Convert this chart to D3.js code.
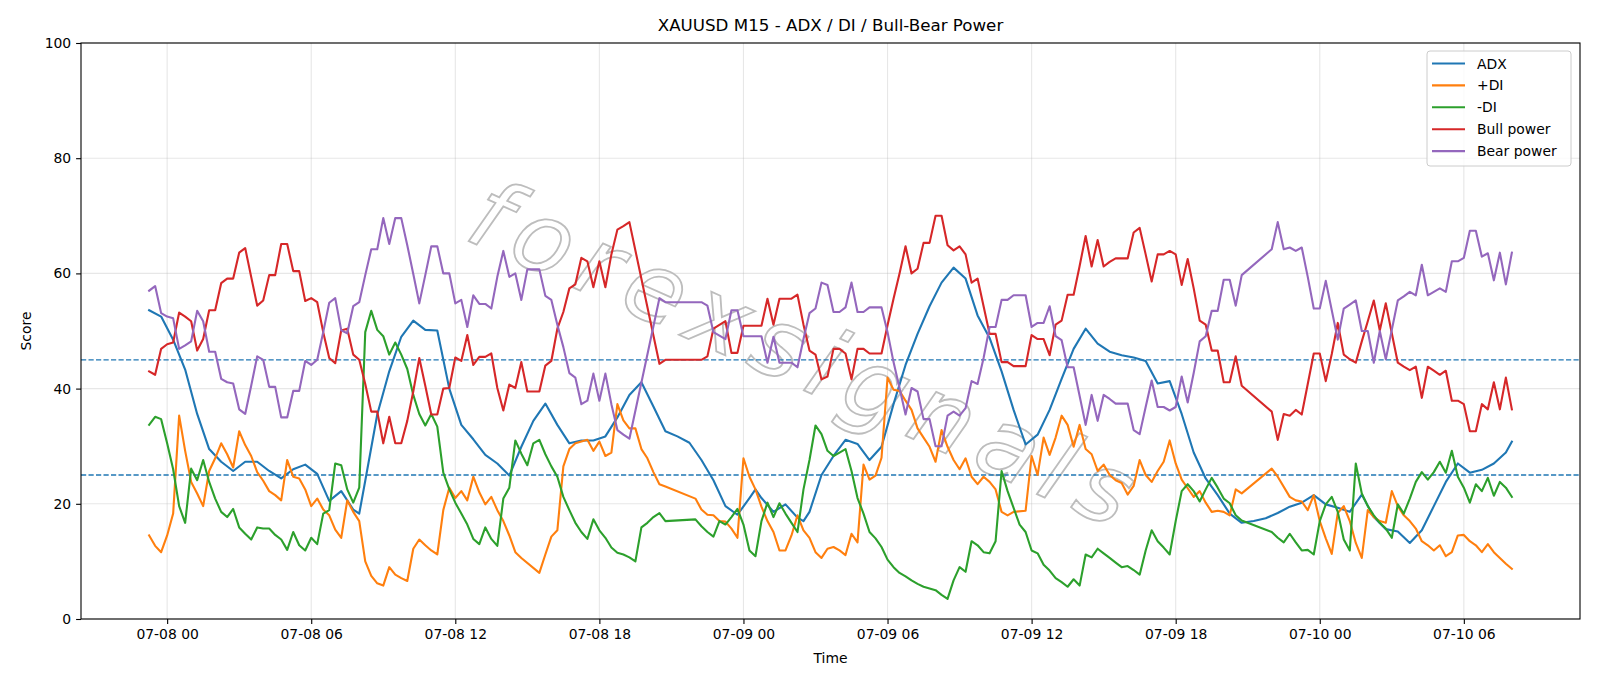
<!DOCTYPE html>
<html>
<head>
<meta charset="utf-8">
<script src="https://cdn.jsdelivr.net/npm/d3@7"></script>
<style>
  html, body { margin: 0; padding: 0; background: #fff; }
  svg { display: block; font-family: "DejaVu Sans", sans-serif; }
</style>
</head>
<body>
<svg id="chart" width="1600" height="686"></svg>
<script>
// M15 bars: bar 0 = 07-07 23:15, one bar every 15 minutes
const startTime = new Date(2025, 6, 7, 23, 15);
const barMinutes = 15;
const lastBar = 227;

const yTicks = [0, 20, 40, 60, 80, 100];
const thresholds = [25, 45];
const seriesNames = ['ADX', '+DI', '-DI', 'Bull power', 'Bear power'];
const seriesColors = ['#1f77b4', '#ff7f0e', '#2ca02c', '#d62728', '#9467bd'];

// [bar, value]
const adx = [[0,53.6],[2,52.5],[4,48.5],[6,43.3],[8,35.6],[10,29.5],[12,27.3],[14,25.7],[16,27.3],[18,27.3],[20,25.7],[22,24.4],
  [24,26],[26,26.8],[28,25.2],[30,20.5],[32,22.2],[34,19],[35,18.3],[36,24],[38,35.5],[40,43],[42,49],[44,51.8],[46,50.2],
  [48,50.1],[50,40],[52,33.7],[54,31.2],[56,28.5],[58,27],[60,24.9],[62,29.9],[64,34.4],[66,37.4],[68,33.7],[70,30.5],
  [72,31],[74,31],[76,31.7],[78,35],[80,38.9],[82,41.1],[84,36.9],[86,32.6],[88,31.7],[90,30.6],[92,27.6],[94,24.1],
  [96,19.6],[98,18.1],[100,21],[101,22.5],[102,21],[104,18.6],[106,19.9],[108,17.6],[109,17],[110,18.6],[112,25],[114,28.3],[116,31.1],[118,30.4],
  [120,27.6],[122,29.9],[124,37.3],[126,44.1],[128,49.5],[130,54.3],[132,58.4],[134,61],[136,59.1],[138,52.7],[140,48.8],[142,43],
  [144,36.3],[146,30.3],[148,32],[150,36.3],[152,41.7],[154,46.9],[156,50.4],[158,47.8],[160,46.4],[162,45.8],[164,45.4],[166,44.8],
  [168,40.9],[170,41.3],[172,35.6],[174,28.9],[176,24.4],[178,21.5],[180,18.3],[182,16.7],[184,17],[186,17.5],[188,18.4],[190,19.5],
  [192,20.2],[194,21.5],[196,19.9],[198,19.3],[200,18.6],[202,21.6],[204,17.7],[206,15.6],[208,15.2],[210,13.2],[212,15.4],[214,19.6],
  [216,23.8],[218,27],[220,25.4],[222,25.9],[224,27],[226,28.9],[227,30.8]];

const plusDi = [[0,14.5],[1,12.7],[2,11.6],[3,14.5],[4,18.3],[5,35.3],[6,29.2],[7,23.8],[8,21.8],[9,19.6],[10,25.7],[11,27.9],
  [12,30.5],[13,28.6],[14,26.3],[15,32.6],[16,30.2],[17,28.3],[18,25.5],[19,24],[20,22.2],[21,21.5],[22,20.6],[23,27.6],
  [24,24.7],[25,24.4],[26,22.5],[27,19.6],[28,20.9],[29,19],[30,18],[31,15.5],[32,14.1],[33,20.6],[34,18.6],[35,17],
  [36,10],[37,7.5],[38,6.2],[39,5.8],[40,9],[41,7.7],[42,7.1],[43,6.6],[44,12.2],[45,13.8],[46,12.8],[47,11.9],
  [48,11.2],[49,18.9],[50,22.8],[51,21],[52,22.2],[53,20.6],[54,24.7],[55,22],[56,19.9],[57,21.2],[58,18.9],[59,17],
  [60,14.5],[61,11.6],[62,10.6],[65,8],[66,11.2],[67,14.3],[68,15.4],[69,26.5],[70,29.5],[71,30.5],[72,30.8],[73,31.1],
  [74,29.2],[75,30.8],[76,28.3],[77,28.9],[78,37.3],[79,34.5],[80,33.1],[81,33.1],[82,29.5],[83,27.9],[84,25.5],[85,23.4],
  [86,23],[91,20.9],[92,19],[93,18.1],[94,18],[95,17],[96,16.9],[97,15.7],[98,14.1],[99,27.9],[100,24.7],[101,22.5],
  [102,19.5],[103,17],[104,15.1],[105,11.9],[106,11.9],[107,14.5],[108,18],[109,15.4],[110,14.1],[111,11.6],[112,10.6],[113,12.2],
  [114,12.5],[115,11.9],[116,11.1],[117,14.8],[118,13.3],[119,26.8],[120,24.2],[121,24.9],[122,28],[123,41.9],[124,39.8],[125,39.6],
  [126,37.9],[127,36.3],[128,33.1],[129,31.5],[130,29.9],[131,27.3],[132,32.8],[133,29.9],[134,27.6],[135,26],[136,27.9],[137,24.7],
  [138,23.4],[139,24.7],[140,23.8],[141,22.5],[142,18.6],[143,18],[144,18.6],[146,18.8],[147,28.3],[148,25],[149,31.5],[150,28.5],
  [151,31.5],[152,35.3],[153,33.7],[154,29.9],[155,33.7],[156,29.5],[157,28.6],[158,25.7],[159,26.8],[160,25],[161,24.1],[162,23.6],
  [163,21.6],[164,23.1],[165,27.6],[166,25],[167,23.8],[168,25.7],[169,27.3],[170,31],[171,27],[172,24.2],[173,22.7],[174,21.2],
  [175,22.2],[176,20.2],[177,18.6],[178,18.8],[179,18.6],[180,18],[181,22.5],[182,21.8],[187,26.1],[188,24.7],[190,21.2],[191,20.6],
  [192,20.4],[193,18.9],[194,21.5],[195,17],[196,14],[197,11.3],[198,18.4],[199,19.6],[200,17],[201,13.2],[202,10.6],[203,18.9],
  [204,17.7],[205,17],[206,16.7],[207,22.2],[208,19.6],[209,18],[210,17],[211,15.7],[212,13.5],[213,12.8],[214,11.9],[215,12.8],
  [216,10.9],[217,11.6],[218,14.5],[219,14.6],[220,13.5],[221,12.8],[222,11.6],[223,13],[224,11.6],[225,10.6],[226,9.6],[227,8.7]];

const minusDi = [[0,33.7],[1,35.1],[2,34.7],[3,30.5],[4,26],[5,19.6],[6,16.7],[7,26.1],[8,24.1],[9,27.6],[10,23.8],[11,20.9],
  [12,18.6],[13,17.7],[14,19.1],[15,15.9],[16,14.8],[17,13.8],[18,15.9],[19,15.7],[20,15.7],[21,14.6],[22,13.8],[23,12],
  [24,15.1],[25,12.8],[26,11.9],[27,14.1],[28,13],[29,18.3],[30,18.9],[31,27],[32,26.7],[33,22.5],[34,20.2],[35,22.8],
  [36,49.8],[37,53.5],[38,50.2],[39,49.1],[40,45.9],[41,48],[42,45.9],[43,43.4],[44,38.9],[45,35.6],[46,33.6],[47,35.6],
  [48,33.4],[49,25.4],[50,22.5],[51,20.2],[52,18.3],[53,16.4],[54,13.9],[55,13],[56,15.9],[57,13.9],[58,12.7],[59,20.9],
  [60,22.8],[61,31],[62,28.7],[63,26.7],[64,30.5],[65,31.1],[66,28.6],[67,26.5],[68,24.7],[69,21.2],[70,18.9],[71,16.7],
  [72,15.1],[73,13.9],[74,17.3],[75,15.4],[76,14.1],[77,12.4],[78,11.5],[79,11.2],[80,10.7],[81,10],[82,15.9],[83,16.7],
  [84,17.7],[85,18.4],[86,17],[91,17.3],[92,16.1],[93,15.1],[94,14.3],[95,17],[96,16.4],[97,17.7],[98,19.1],[99,16.4],
  [100,11.9],[101,10.9],[102,17],[103,20.2],[104,17.7],[105,20.1],[106,18.3],[107,16.7],[108,15.1],[109,22.5],[110,27.6],[111,33.6],
  [112,32.1],[113,29.2],[114,28.3],[115,28.9],[116,29.5],[117,25.7],[118,21],[119,18.3],[120,15.1],[121,14],[122,12.5],[123,10.3],
  [124,9],[125,8],[126,7.4],[127,6.7],[128,6.1],[129,5.6],[131,5],[132,4.2],[133,3.5],[134,6.7],[135,9],[136,8.2],
  [137,13.5],[138,12.8],[139,11.6],[140,11.4],[141,13.5],[142,25.7],[143,22.2],[144,19.3],[145,16.4],[146,15.1],[147,11.9],[148,11.4],
  [149,9.4],[150,8.4],[151,7.1],[152,6.4],[153,5.6],[154,6.9],[155,5.8],[156,11.2],[157,10.7],[158,12.2],[159,11.4],[160,10.6],
  [161,9.8],[162,9],[163,9.2],[164,8.5],[165,7.7],[166,11.9],[167,15.4],[168,13.5],[169,12.4],[170,11.2],[171,17],[172,22.2],
  [173,23.4],[174,22.2],[175,20.4],[176,22.5],[177,24.5],[178,22.8],[179,20.9],[180,20.1],[181,18],[182,17.1],[187,15.1],[188,14.1],
  [189,13.3],[190,14.8],[191,13.3],[192,11.9],[193,12],[194,11.2],[195,17],[196,19.9],[197,21.2],[198,18.6],[199,13.8],[200,11.9],
  [201,27],[202,21.8],[203,19.6],[204,18],[205,16.7],[206,15.7],[207,14.1],[208,19.9],[209,18.3],[210,20.9],[211,23.8],[212,25.5],
  [213,24.2],[214,25.5],[215,27.3],[216,25.4],[217,29.2],[218,24.7],[219,22.8],[220,20.2],[221,23.4],[222,22.2],[223,24.5],[224,21.4],
  [225,23.8],[226,22.8],[227,21.2]];

const bullPower = [[0,43],[1,42.4],[2,46.9],[3,47.7],[4,48],[5,53.2],[6,52.5],[7,51.7],[8,46.6],[9,48.6],[10,53.6],[11,53.6],
  [12,58.3],[13,59.1],[14,59.1],[15,63.6],[16,64.4],[17,59.4],[18,54.4],[19,55.3],[20,59.7],[21,59.7],[22,65.1],[23,65.1],
  [24,60.4],[25,60.4],[26,55.2],[27,55.7],[28,55],[29,49.8],[30,45.3],[31,44.4],[32,50.1],[33,50.4],[34,45.9],[35,45],
  [36,40.8],[37,36],[38,36],[39,30.5],[40,35.1],[41,30.5],[42,30.5],[43,34.4],[44,39.5],[45,45.3],[46,40.5],[47,35.5],
  [48,35.5],[49,40],[50,40.1],[51,45.4],[52,44.8],[53,49.3],[54,44.1],[55,45.5],[56,45.5],[57,46.1],[58,40.1],[59,36.2],
  [60,40.7],[61,40.1],[62,44.6],[63,39.5],[64,39.5],[65,39.5],[66,44],[67,44.8],[68,50.4],[69,53.3],[70,57.4],[71,58.1],
  [72,62.7],[73,62.1],[74,57.6],[75,62.1],[76,57.6],[77,63.3],[78,67.6],[79,68.2],[80,68.9],[85,44.3],[86,45],[92,45],
  [93,45.6],[94,50.4],[96,51.7],[97,46.2],[98,46.2],[99,50.9],[102,50.9],[103,55.6],[104,51.1],[105,55.6],[107,55.6],[108,56.3],
  [109,51.1],[110,46.6],[111,45.9],[112,41.6],[113,42.1],[114,46.9],[115,46.9],[116,46.1],[117,41.6],[118,46.9],[119,46.9],[120,46.1],
  [121,46.1],[122,46.1],[123,51],[124,55.6],[125,60],[126,64.7],[127,60],[128,60.8],[129,65.3],[130,65.3],[131,70],[132,70],
  [133,64.9],[134,64],[135,64.7],[136,63.3],[137,58.4],[138,59.1],[139,54.3],[140,49.5],[141,49.5],[142,44.6],[143,44.6],[144,43.9],
  [146,43.9],[147,49.3],[148,48.6],[149,48.6],[150,45.8],[151,51.1],[152,51.8],[153,56.3],[154,56.3],[155,61.3],[156,66.5],[157,61.2],
  [158,65.8],[159,61.2],[160,62],[161,62.6],[162,62.6],[163,62.6],[164,67.1],[165,67.9],[166,63.3],[167,58.6],[168,63.3],[169,63.3],
  [170,63.9],[171,63.3],[172,58],[173,62.5],[174,57.4],[175,51.8],[176,51.1],[177,46.6],[178,46.6],[179,41.1],[180,41.1],[181,45.6],
  [182,40.5],[187,36],[188,31.1],[189,35.6],[190,35.3],[191,36.3],[192,35.5],[193,40.8],[194,46.1],[195,46.1],[196,41.3],[197,46],
  [198,51.4],[199,45.9],[200,45.1],[201,44.5],[202,48.2],[203,51.7],[204,55.3],[205,50.1],[206,54.8],[207,49.6],[208,44.5],[209,43.8],
  [210,43.2],[211,43.8],[212,38.4],[213,43.8],[214,43.1],[215,42.4],[216,43.1],[217,37.9],[218,37.9],[219,37.3],[220,32.6],[221,32.6],
  [222,37.3],[223,36.4],[224,41.1],[225,36.4],[226,41.9],[227,36.4]];

const bearPower = [[0,57],[1,57.8],[2,53.1],[3,52.5],[4,52.2],[5,46.9],[6,47.5],[7,48.2],[8,53.5],[9,51.7],[10,46.4],[11,46.4],
  [12,41.7],[13,41.1],[14,40.9],[15,36.4],[16,35.6],[17,40.5],[18,45.6],[19,45],[20,40.3],[21,40.3],[22,35],[23,35],
  [24,39.6],[25,39.6],[26,44.8],[27,44.1],[28,45],[29,49.8],[30,54.9],[31,55.7],[32,50.1],[33,49.6],[34,54.3],[35,55],
  [36,59.7],[37,64.2],[38,64.2],[39,69.6],[40,65.1],[41,69.6],[42,69.6],[43,64.9],[44,59.9],[45,54.8],[46,59.7],[47,64.7],
  [48,64.7],[49,60],[50,60],[51,54.8],[52,55.4],[53,50.7],[54,56.2],[55,54.7],[56,54.7],[57,53.9],[58,59.4],[59,63.9],
  [60,59.4],[61,60],[62,55.4],[63,60.7],[64,60.7],[65,60.7],[66,56.1],[67,55.4],[68,51.1],[69,47.2],[70,42.7],[71,41.9],
  [72,37.3],[73,37.9],[74,42.6],[75,37.9],[76,42.6],[77,37.3],[78,32.8],[79,32],[80,31.3],[85,55.7],[86,55],[92,55],
  [93,54.4],[94,49.8],[96,48.6],[97,53.6],[98,53.6],[99,49.1],[102,49.1],[103,44.5],[104,49],[105,44.5],[107,44.5],[108,43.7],
  [109,48.6],[110,53.1],[111,53.9],[112,58.4],[113,58],[114,53.3],[115,53.3],[116,54.1],[117,58.4],[118,53.3],[119,53.3],[120,54.1],
  [121,54.1],[122,54.1],[123,49.8],[124,44.6],[125,40.1],[126,35.5],[127,40.1],[128,39.5],[129,34.7],[130,34.7],[131,30],[132,30],
  [133,35.3],[134,36],[135,35.3],[136,36.6],[137,41.3],[138,40.8],[139,45.3],[140,50.7],[141,50.7],[142,55.4],[143,55.4],[144,56.2],
  [146,56.2],[147,50.7],[148,51.4],[149,51.4],[150,54.3],[151,49.1],[152,48.4],[153,43.7],[154,43.7],[155,38.7],[156,33.7],[157,38.9],
  [158,34.4],[159,38.9],[160,38.2],[161,37.4],[162,37.4],[163,37.4],[164,32.8],[165,32.1],[166,36.8],[167,41.4],[168,36.8],[169,36.8],
  [170,36.2],[171,36.8],[172,42.1],[173,37.6],[174,42.7],[175,48.2],[176,49.1],[177,53.5],[178,53.5],[179,58.9],[180,58.9],[181,54.4],
  [182,59.7],[187,64.2],[188,68.9],[189,64.2],[190,64.5],[191,63.9],[192,64.5],[193,59.4],[194,53.9],[195,53.9],[196,58.7],[197,53.6],
  [198,48.5],[199,53.9],[200,54.6],[201,55.3],[202,50],[203,50],[204,44.5],[205,50],[206,45.1],[207,50.2],[208,55.3],[209,56],
  [210,56.8],[211,56.2],[212,61.5],[213,56.2],[214,56.8],[215,57.4],[216,56.8],[217,62.1],[218,62.1],[219,62.7],[220,67.4],[221,67.4],
  [222,62.9],[223,63.5],[224,58.8],[225,63.6],[226,58.1],[227,63.6]];

const allSeries = [adx, plusDi, minusDi, bullPower, bearPower];

const svg = d3.select('#chart');
const W = 1600, H = 686;
const plotL = 81, plotR = 1580, plotT = 43, plotB = 619;

function barTime(b) {
  return new Date(startTime.getTime() + b * barMinutes * 60000);
}

// matplotlib style 5% x margins
const t0 = barTime(0), t1 = barTime(lastBar);
const pad = (t1 - t0) * 0.05;
const x = d3.scaleTime()
  .domain([new Date(t0.getTime() - pad), new Date(t1.getTime() + pad)])
  .range([plotL, plotR]);
const y = d3.scaleLinear().domain([0, 100]).range([plotB, plotT]);

svg.append('rect').attr('width', W).attr('height', H).attr('fill', '#fff');

// grid
const xTickVals = d3.timeHour.every(6).range(x.domain()[0], x.domain()[1]);
svg.append('g').selectAll('line').data(xTickVals).enter().append('line')
  .attr('x1', d => x(d)).attr('x2', d => x(d))
  .attr('y1', plotT).attr('y2', plotB)
  .attr('stroke', '#b0b0b0').attr('stroke-opacity', 0.3).attr('stroke-width', 1.1);
svg.append('g').selectAll('line').data(yTicks).enter().append('line')
  .attr('x1', plotL).attr('x2', plotR)
  .attr('y1', d => y(d)).attr('y2', d => y(d))
  .attr('stroke', '#b0b0b0').attr('stroke-opacity', 0.3).attr('stroke-width', 1.1);

// watermark (thin outline text)
svg.append('text')
  .attr('transform', 'translate(805,362) rotate(24)')
  .attr('text-anchor', 'middle')
  .attr('dominant-baseline', 'middle')
  .style('font-family', '"DejaVu Sans"')
  .style('font-style', 'italic')
  .style('font-size', '96px')
  .style('letter-spacing', '12px')
  .attr('fill', 'none')
  .attr('stroke', '#bdbdbd')
  .attr('stroke-width', 1.8)
  .text('forexsignals');

// thresholds
svg.append('g').selectAll('line').data(thresholds).enter().append('line')
  .attr('x1', plotL).attr('x2', plotR)
  .attr('y1', d => y(d)).attr('y2', d => y(d))
  .attr('stroke', '#1f77b4').attr('stroke-width', 1.3)
  .attr('stroke-dasharray', '5.2,2.3');

// series
const line = d3.line().x(d => x(barTime(d[0]))).y(d => y(d[1]));
allSeries.forEach((s, i) => {
  svg.append('path')
    .datum(s)
    .attr('d', line)
    .attr('fill', 'none')
    .attr('stroke', seriesColors[i])
    .attr('stroke-width', 2.1)
    .attr('stroke-linejoin', 'round')
    .attr('stroke-linecap', 'square');
});

// axes
const xAxis = d3.axisBottom(x)
  .tickValues(xTickVals)
  .tickFormat(d3.timeFormat('%m-%d %H'))
  .tickSizeInner(4.9).tickSizeOuter(0).tickPadding(4.9);
const gx = svg.append('g').attr('transform', 'translate(0,' + plotB + ')').call(xAxis);
const yAxis = d3.axisLeft(y).tickValues(yTicks)
  .tickSizeInner(4.9).tickSizeOuter(0).tickPadding(4.9);
const gy = svg.append('g').attr('transform', 'translate(' + plotL + ',0)').call(yAxis);
[gx, gy].forEach(g => {
  g.select('.domain').remove();
  g.selectAll('.tick line').attr('stroke', '#000').attr('stroke-width', 1.1);
  g.selectAll('.tick text')
    .style('font-family', '"DejaVu Sans"').style('font-size', '13.9px').attr('fill', '#000');
});

// spines
svg.append('rect')
  .attr('x', plotL).attr('y', plotT)
  .attr('width', plotR - plotL).attr('height', plotB - plotT)
  .attr('fill', 'none').attr('stroke', '#000').attr('stroke-width', 1.1);

// labels
svg.append('text')
  .attr('x', (plotL + plotR) / 2).attr('y', 31)
  .attr('text-anchor', 'middle')
  .style('font-size', '16.7px')
  .text('XAUUSD M15 - ADX / DI / Bull-Bear Power');
svg.append('text')
  .attr('x', (plotL + plotR) / 2).attr('y', 663)
  .attr('text-anchor', 'middle')
  .style('font-size', '13.9px')
  .text('Time');
svg.append('text')
  .attr('transform', 'translate(30.5,' + ((plotT + plotB) / 2) + ') rotate(-90)')
  .attr('text-anchor', 'middle')
  .style('font-size', '13.9px')
  .text('Score');

// legend
const lg = svg.append('g').attr('transform', 'translate(1427,51)');
lg.append('rect')
  .attr('width', 144).attr('height', 115).attr('rx', 3)
  .attr('fill', '#fff').attr('fill-opacity', 0.8)
  .attr('stroke', '#cccccc').attr('stroke-width', 1);
seriesNames.forEach((name, i) => {
  const cy = 12.5 + i * 21.9;
  lg.append('line')
    .attr('x1', 5).attr('x2', 38).attr('y1', cy).attr('y2', cy)
    .attr('stroke', seriesColors[i]).attr('stroke-width', 2.1);
  lg.append('text')
    .attr('x', 50).attr('y', cy + 5)
    .style('font-size', '13.9px')
    .text(name);
});
</script>
</body>
</html>
